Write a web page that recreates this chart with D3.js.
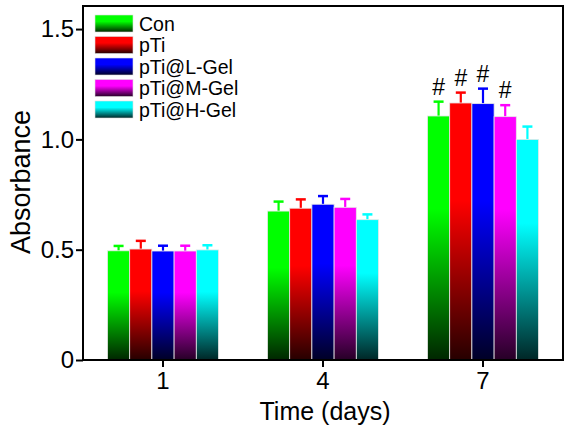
<!DOCTYPE html>
<html><head><meta charset="utf-8">
<script src="https://cdn.jsdelivr.net/npm/d3@7"></script>
<style>body{margin:0;background:#fff}svg{display:block}text{font-family:"Liberation Sans",Arial,sans-serif;fill:#000}</style>
</head><body><svg id="c" width="574" height="433"></svg>
<script>
const days = ["1", "4", "7"];
const groups = ["Con", "pTi", "pTi@L-Gel", "pTi@M-Gel", "pTi@H-Gel"];
const colors = ["#00ff00", "#ff0000", "#0000ff", "#ff00ff", "#00ffff"];
const conVals = [0.495, 0.675, 1.106];
const pTiVals = [0.503, 0.688, 1.165];
const lGelVals = [0.494, 0.706, 1.162];
const mGelVals = [0.494, 0.692, 1.103];
const hGelVals = [0.499, 0.636, 1.000];
const conErr = [0.022, 0.043, 0.065];
const pTiErr = [0.037, 0.040, 0.047];
const lGelErr = [0.024, 0.037, 0.068];
const mGelErr = [0.024, 0.038, 0.052];
const hGelErr = [0.021, 0.024, 0.058];
// significance marks indexed [groupIdx][dayIdx]
const sig = [["", "", "#"], ["", "", "#"], ["", "", "#"], ["", "", "#"], ["", "", ""]];
const yTicks = [0, 0.5, 1.0, 1.5];
const yTickLabels = ["0", "0.5", "1.0", "1.5"];

const vals = [conVals, pTiVals, lGelVals, mGelVals, hGelVals];
const errs = [conErr, pTiErr, lGelErr, mGelErr, hGelErr];

const FONT = '"Liberation Sans",Arial,sans-serif';
const svg = d3.select("#c");
const L = 83, R = 563, T = 6, B = 360;

const x = d3.scaleBand().domain(days).range([L, R]).paddingInner(0.306).paddingOuter(0.153);
const x1 = d3.scaleBand().domain(groups).range([0, x.bandwidth()]);
const y = d3.scaleLinear().domain([0, 1.6]).range([B, 7]);

const defs = svg.append("defs");
colors.forEach((c, i) => {
  const g = defs.append("linearGradient").attr("id", "g" + i)
    .attr("x1", 0).attr("y1", 0).attr("x2", 0).attr("y2", 1);
  const dark = d3.interpolateRgb(c, "#000")(0.85);
  g.append("stop").attr("offset", "0").attr("stop-color", c);
  g.append("stop").attr("offset", "0.38").attr("stop-color", c);
  g.append("stop").attr("offset", "1").attr("stop-color", dark);
});

const data = [];
groups.forEach((gname, gi) => days.forEach((d, di) => data.push({g: gname, gi, d, v: vals[gi][di], e: errs[gi][di], s: sig[gi][di]})));

// error bars
const eb = svg.append("g");
data.forEach(o => {
  const cx = x(o.d) + x1(o.g) + x1.bandwidth() / 2;
  eb.append("line").attr("x1", cx).attr("x2", cx).attr("y1", y(o.v)).attr("y2", y(o.v + o.e))
    .attr("stroke", colors[o.gi]).attr("stroke-width", 2.2);
  eb.append("line").attr("x1", cx - 5).attr("x2", cx + 5).attr("y1", y(o.v + o.e)).attr("y2", y(o.v + o.e))
    .attr("stroke", colors[o.gi]).attr("stroke-width", 2.5);
});

svg.append("g").selectAll("rect").data(data).join("rect")
  .attr("x", o => x(o.d) + x1(o.g))
  .attr("y", o => y(o.v))
  .attr("width", x1.bandwidth())
  .attr("height", o => B - y(o.v))
  .attr("fill", o => "url(#g" + o.gi + ")")
  .attr("stroke", "#e8e8e8").attr("stroke-width", 0.8);

// significance marks
svg.append("g").selectAll("text").data(data.filter(o => o.s)).join("text")
  .attr("x", o => x(o.d) + x1(o.g) + x1.bandwidth() / 2)
  .attr("y", o => y(o.v + o.e) - 7)
  .attr("text-anchor", "middle").attr("font-size", 23).text(o => o.s);

// frame
svg.append("rect").attr("x", L).attr("y", T).attr("width", R - L).attr("height", B - T)
  .attr("fill", "none").attr("stroke", "#000").attr("stroke-width", 2);

// y axis
const ya = svg.append("g").attr("transform", `translate(${L},0)`)
  .call(d3.axisLeft(y).tickValues(yTicks).tickFormat((d, i) => yTickLabels[i]).tickSize(7).tickPadding(2));
ya.select(".domain").remove();
ya.selectAll("line").attr("stroke-width", 2);
ya.selectAll("text").attr("font-size", 24).attr("font-family", FONT);

// x axis
const xa = svg.append("g").attr("transform", `translate(0,${B})`)
  .call(d3.axisBottom(x).tickSize(7).tickPadding(5));
xa.select(".domain").remove();
xa.selectAll("line").attr("stroke-width", 2);
xa.selectAll("text").attr("font-size", 24).attr("font-family", FONT);

// axis titles
svg.append("text").attr("x", 325).attr("y", 420).attr("text-anchor", "middle").attr("font-size", 25).text("Time (days)");
svg.append("text").attr("transform", "translate(30,182) rotate(-90)").attr("text-anchor", "middle").attr("font-size", 27).text("Absorbance");

// legend
const lg = svg.append("g");
groups.forEach((gname, i) => {
  const yy = 15 + i * 21.5;
  lg.append("rect").attr("x", 95).attr("y", yy).attr("width", 38).attr("height", 17)
    .attr("fill", "url(#g" + i + ")").attr("stroke", "#ddd").attr("stroke-width", 0.6);
  lg.append("text").attr("x", 139).attr("y", yy + 15.5).attr("font-size", 19.5).text(gname);
});
</script></body></html>
